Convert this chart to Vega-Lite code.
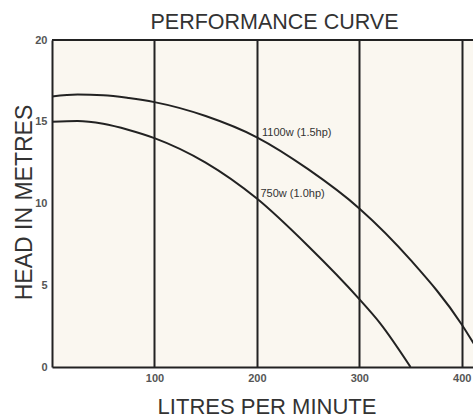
{
  "$schema": "https://vega.github.io/schema/vega-lite/v6.json",
  "width": 421,
  "height": 327,
  "autosize": {"type": "none"},
  "padding": {"left": 52, "top": 40, "right": 0, "bottom": 51},
  "background": "#ffffff",
  "config": {
    "view": {"stroke": null, "fill": "#faf7f0"},
    "font": "Liberation Sans"
  },
  "title": {
    "text": "PERFORMANCE CURVE",
    "fontSize": 21.5,
    "fontWeight": "normal",
    "color": "#333333",
    "frame": "group",
    "anchor": "middle",
    "dx": 12,
    "baseline": "alphabetic",
    "offset": -16
  },
  "datasets": {
    "curves": [
      {"pump": "1100w", "lpm": 0, "head": 16.55},
      {"pump": "1100w", "lpm": 25, "head": 16.66},
      {"pump": "1100w", "lpm": 50, "head": 16.62},
      {"pump": "1100w", "lpm": 75, "head": 16.45},
      {"pump": "1100w", "lpm": 100, "head": 16.2},
      {"pump": "1100w", "lpm": 150, "head": 15.35},
      {"pump": "1100w", "lpm": 200, "head": 14.05},
      {"pump": "1100w", "lpm": 250, "head": 12.1},
      {"pump": "1100w", "lpm": 300, "head": 9.7},
      {"pump": "1100w", "lpm": 350, "head": 6.55},
      {"pump": "1100w", "lpm": 400, "head": 2.6},
      {"pump": "1100w", "lpm": 412, "head": 1.4},
      {"pump": "750w", "lpm": 0, "head": 15.0},
      {"pump": "750w", "lpm": 25, "head": 15.05},
      {"pump": "750w", "lpm": 50, "head": 14.88},
      {"pump": "750w", "lpm": 75, "head": 14.5},
      {"pump": "750w", "lpm": 100, "head": 14.0},
      {"pump": "750w", "lpm": 150, "head": 12.5},
      {"pump": "750w", "lpm": 200, "head": 10.3},
      {"pump": "750w", "lpm": 250, "head": 7.4},
      {"pump": "750w", "lpm": 300, "head": 4.15},
      {"pump": "750w", "lpm": 320, "head": 2.7},
      {"pump": "750w", "lpm": 350, "head": 0}
    ],
    "labels": [
      {"label": "1100w (1.5hp)", "lpm": 205, "head": 14.3},
      {"label": "750w (1.0hp)", "lpm": 203.5, "head": 10.6}
    ],
    "frame": [{"level": 20}]
  },
  "layer": [
    {
      "data": {"name": "curves"},
      "mark": {"type": "line", "interpolate": "monotone", "clip": true, "color": "#222222", "strokeWidth": 2},
      "encoding": {
        "x": {
          "field": "lpm", "type": "quantitative",
          "scale": {"domain": [0, 411], "nice": false},
          "axis": {
            "values": [100, 200, 300, 400],
            "grid": true, "gridColor": "#222222", "gridWidth": 2, "gridOpacity": 1,
            "ticks": false,
            "domain": true, "domainColor": "#222222", "domainWidth": 2,
            "labelFontSize": 11, "labelFontWeight": "bold", "labelColor": "#555555", "labelPadding": 5,
            "title": "LITRES PER MINUTE",
            "titleFontSize": 22, "titleFontWeight": "normal", "titleColor": "#333333",
            "titleX": 214.5, "titleY": 46, "titleBaseline": "alphabetic", "titleAlign": "center"
          }
        },
        "y": {
          "field": "head", "type": "quantitative",
          "scale": {"domain": [0, 20], "nice": false},
          "axis": {
            "values": [0, 5, 10, 15, 20],
            "grid": false, "ticks": false,
            "domain": true, "domainColor": "#222222", "domainWidth": 2,
            "labelFontSize": 11, "labelFontWeight": "bold", "labelColor": "#555555", "labelPadding": 5,
            "title": "HEAD IN METRES",
            "titleFontSize": 23, "titleFontWeight": "normal", "titleColor": "#333333",
            "titleX": -21, "titleY": 162, "titleAngle": -90, "titleBaseline": "alphabetic", "titleAlign": "center"
          }
        },
        "detail": {"field": "pump", "type": "nominal"}
      }
    },
    {
      "data": {"name": "labels"},
      "mark": {"type": "text", "align": "left", "baseline": "middle", "fontSize": 11, "color": "#333333"},
      "encoding": {
        "x": {"field": "lpm", "type": "quantitative"},
        "y": {"field": "head", "type": "quantitative"},
        "text": {"field": "label", "type": "nominal"}
      }
    },
    {
      "data": {"name": "frame"},
      "mark": {"type": "rule", "color": "#222222", "strokeWidth": 2},
      "encoding": {
        "y": {"field": "level", "type": "quantitative"}
      }
    }
  ]
}
